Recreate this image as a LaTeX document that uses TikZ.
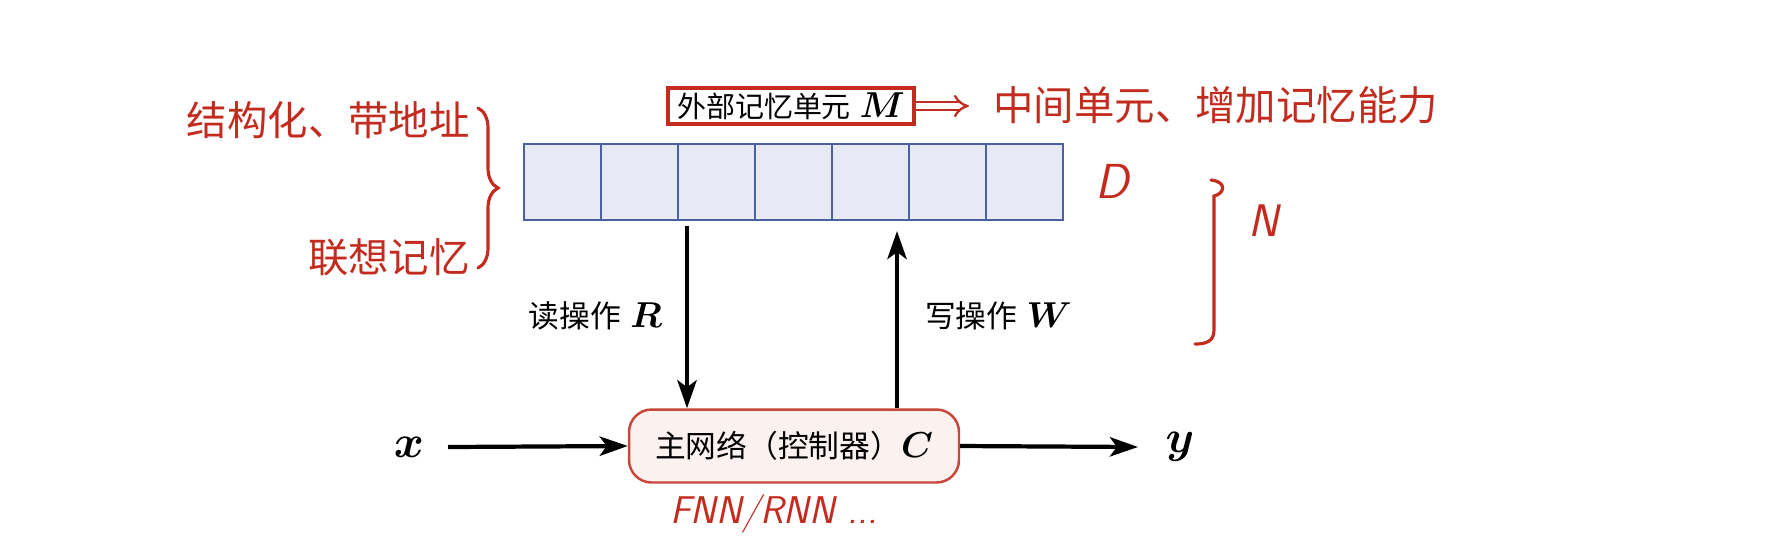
\RequirePackage{fix-cm}
\documentclass[tikz,border=0pt]{standalone}
\usepackage{fontspec}
\usepackage{bm}
\usetikzlibrary{arrows.meta,decorations.pathreplacing,calc}
\newfontfamily\cjk{Noto Sans CJK SC}
\newcommand{\bigsym}[1]{{\fontsize{20.5}{23}\selectfont$\bm{#1}$}}

\definecolor{cellfill}{HTML}{E7EAF5}
\definecolor{cellline}{HTML}{4A62A4}
\definecolor{ctrlfill}{HTML}{FBF1EE}
\definecolor{ctrlline}{HTML}{C8463A}
\definecolor{inkred}{HTML}{C42B1F}

\tikzset{
  cell/.style={draw=cellline, fill=cellfill, line width=1.6pt, minimum width=1.54cm, minimum height=1.52cm, inner sep=0pt},
  flow/.style={line width=2.4pt, -{Stealth[length=16pt,width=11pt,inset=4pt]}},
  txt/.style={font=\fontsize{17.5}{21}\selectfont, inner sep=1pt},
  hand/.style={inkred, font=\fontsize{23}{26}\selectfont\cjk, inner sep=0pt},
  handline/.style={inkred, line width=1.8pt, line cap=round}
}

\begin{document}
\begin{tikzpicture}[x=0.02cm,y=-0.02cm]
\useasboundingbox (0,0) rectangle (1770,556);

% memory cells
\foreach \i in {0,...,6}
  \node[cell] (m\i) at (562.5+77*\i,182) {};

\node[txt, font=\fontsize{16.5}{20}\selectfont, draw=inkred, line width=1.8pt, minimum width=4.92cm, minimum height=0.72cm] (mlabel) at (791,106) {{\cjk 外部记忆单元} \bigsym{M}};

% controller
\node[txt, draw=ctrlline, fill=ctrlfill, line width=1.4pt, rounded corners=0.45cm, minimum width=6.6cm, minimum height=1.46cm] (ctrl) at (794,446) {{\cjk 主网络（控制器）}\bigsym{C}};

\node[txt, font=\fontsize{26}{28}\selectfont] (xin) at (409,447) {$\bm{x}$};
\node[txt, font=\fontsize{26}{28}\selectfont] (yout) at (1180,447) {$\bm{y}$};

\draw[flow] (448,447) -- (ctrl.west);
\draw[flow] (ctrl.east) -- (1138,447);

% read / write
\coordinate (rd) at (687,226);
\coordinate (wr) at (897,231);
\draw[flow] (rd) -- (rd |- ctrl.north);
\draw[flow] (wr |- ctrl.north) -- (wr);
\node[txt, anchor=east] (rlabel) at (664,316) {{\cjk 读操作} \bigsym{R}};
\node[txt, anchor=west] (wlabel) at (923,316) {{\cjk 写操作} \bigsym{W}};

% notes
\coordinate (mtip) at (969,106);
\draw[inkred, line width=1.3pt, double, double distance=3pt, -{Implies}] (mlabel.east) -- (mtip);
\node[hand, anchor=west] (midnote) at (993,105) {中间单元、增加记忆能力};
\node[hand, anchor=east] (struct) at (470,120) {结构化、带地址};
\node[hand, anchor=east] (assoc) at (470,257) {联想记忆};
\draw[handline, decorate, decoration={brace, amplitude=0.4cm}] (478,108) -- (478,268);

\node[inkred, font=\fontsize{28}{30}\selectfont\sffamily\itshape] (dimD) at (1112,181) {D};
\draw[handline] (1211,180) .. controls (1228,182) and (1224,194) .. (1214,196) -- (1214,330) .. controls (1214,342) and (1205,344) .. (1195,344);
\node[inkred, font=\fontsize{26}{28}\selectfont\sffamily\itshape] (dimN) at (1264,221) {N};

\node[inkred, font=\fontsize{22}{24}\selectfont\sffamily\itshape, anchor=west] (ctrlnote) at (664,514) {FNN/RNN ...};
\end{tikzpicture}
\end{document}
